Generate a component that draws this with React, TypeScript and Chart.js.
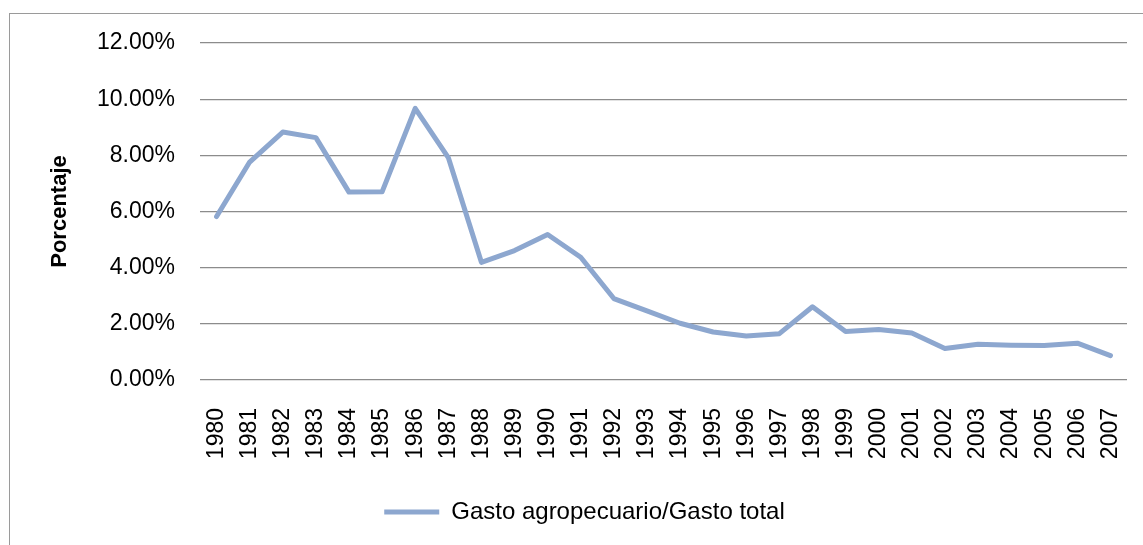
import React, { useEffect, useRef } from "react";
import { Chart, registerables } from "chart.js";

Chart.register(...registerables);

const years: string[] = [
  "1980", "1981", "1982", "1983", "1984", "1985", "1986", "1987", "1988", "1989",
  "1990", "1991", "1992", "1993", "1994", "1995", "1996", "1997", "1998", "1999",
  "2000", "2001", "2002", "2003", "2004", "2005", "2006", "2007",
];

const gastoRatio: number[] = [
  5.82, 7.76, 8.83, 8.63, 6.69, 6.7, 9.67, 7.92, 4.19, 4.61,
  5.18, 4.37, 2.9, 2.46, 2.02, 1.71, 1.57, 1.65, 2.61, 1.73,
  1.8, 1.67, 1.12, 1.27, 1.24, 1.23, 1.31, 0.87,
];

const seriesLabel = "Gasto agropecuario/Gasto total";
const yTitle = "Porcentaje";
const yMin = 0;
const yMax = 12;
const yStep = 2;

const FONT = "'Liberation Sans', Arial, sans-serif";
const LINE_COLOR = "#8da7cf";

export default function App() {
  const ref = useRef<HTMLCanvasElement | null>(null);

  useEffect(() => {
    document.body.style.margin = "0";
    const canvas = ref.current;
    if (!canvas) return;
    const chart = new Chart(canvas, {
      type: "line",
      data: {
        labels: years,
        datasets: [
          {
            label: seriesLabel,
            data: gastoRatio,
            borderColor: LINE_COLOR,
            backgroundColor: LINE_COLOR,
            borderWidth: 5,
            pointRadius: 0,
            pointHoverRadius: 0,
            tension: 0,
            borderJoinStyle: "round",
            borderCapStyle: "round",
          },
        ],
      },
      options: {
        animation: false,
        responsive: false,
        maintainAspectRatio: false,
        layout: { padding: { left: 42, top: 43, right: 16, bottom: 11 } },
        plugins: {
          tooltip: { enabled: false },
          legend: {
            position: "bottom",
            labels: {
              usePointStyle: true,
              pointStyle: "line",
              pointStyleWidth: 55,
              boxHeight: 5,
              color: "#000",
              font: { family: FONT, size: 24 },
              padding: 10,
            },
          },
        },
        scales: {
          x: {
            offset: true,
            grid: { display: false, drawTicks: false },
            border: { display: false },
            ticks: {
              minRotation: 90,
              maxRotation: 90,
              autoSkip: false,
              padding: 28,
              color: "#000",
              font: { family: FONT, size: 23 },
            },
            afterFit: (scale: any) => {
              scale.height = 110;
              scale.paddingLeft = 0;
              scale.paddingRight = 0;
            },
          },
          y: {
            min: yMin,
            max: yMax,
            grid: { color: "#8c8c8c", lineWidth: 1.3, drawTicks: false },
            border: { display: false },
            ticks: {
              stepSize: yStep,
              padding: 25,
              color: "#000",
              font: { family: FONT, size: 23 },
              callback: (v: any) => Number(v).toFixed(2) + "%",
            },
            title: {
              display: true,
              text: yTitle,
              color: "#000",
              font: { family: FONT, size: 22, weight: "bold" },
              padding: { top: 5, bottom: 0 },
            },
            afterFit: (scale: any) => {
              scale.width = 158;
            },
          },
        },
      },
    });
    return () => chart.destroy();
  }, []);

  return (
    <div style={{ position: "absolute", left: 0, top: 0, width: 1143, height: 545, background: "#fff", overflow: "hidden" }}>
      <div
        style={{
          position: "absolute",
          left: 9,
          top: 13,
          width: 1200,
          height: 600,
          borderLeft: "1.5px solid #9a9a9a",
          borderTop: "1.5px solid #9a9a9a",
        }}
      />
      <canvas ref={ref} width={1143} height={545} style={{ position: "absolute", left: 0, top: 0, width: 1143, height: 545 }} />
    </div>
  );
}
